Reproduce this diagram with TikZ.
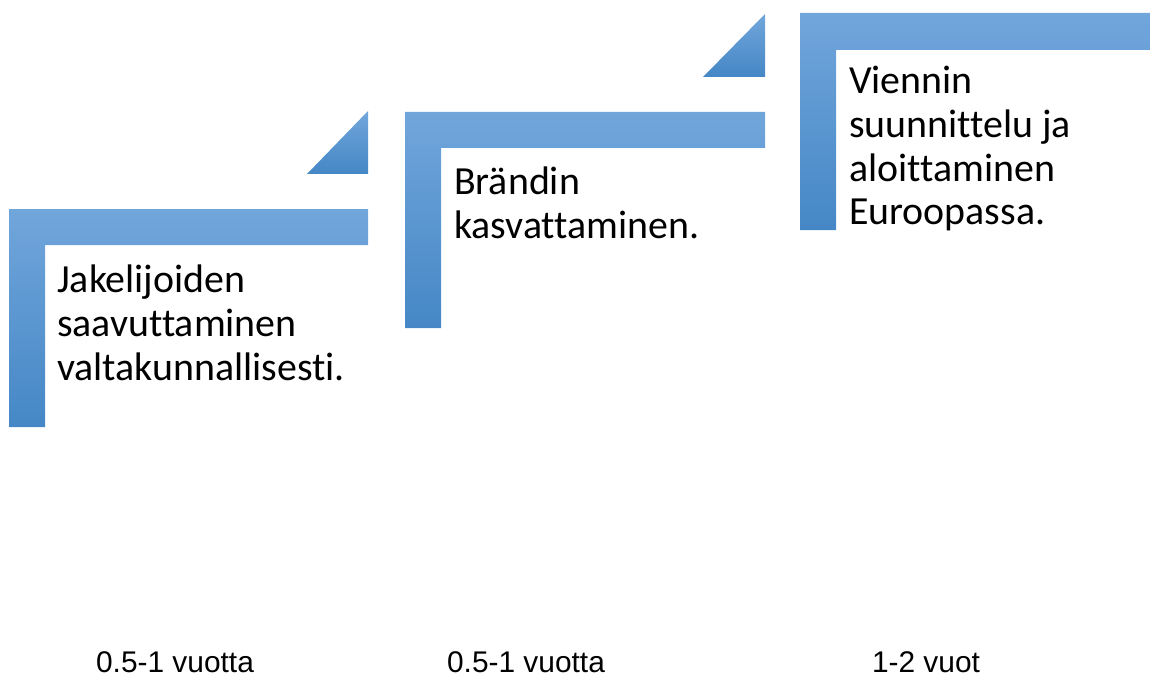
\documentclass[tikz,border=0pt]{standalone}
\usepackage{fontspec}
\setmainfont{Carlito}[Ligatures=NoCommon]
\newfontfamily\arialf{Liberation Sans}
\definecolor{bTop}{HTML}{71A6DB}
\definecolor{bMid}{HTML}{5A9ADB}
\definecolor{bBot}{HTML}{4587C6}
\tikzset{
  stepshape/.style={top color=bTop, middle color=bMid, bottom color=bBot, draw=none},
  tri/.style={top color=bTop, middle color=bMid, bottom color=bBot, draw=none},
  steptext/.style={anchor=base west, align=left, inner sep=0pt, font=\fontsize{40}{44}\selectfont},
  durtext/.style={anchor=base, inner sep=0pt, text depth=0pt, font=\arialf\fontsize{30}{34}\selectfont}
}
\begin{document}
\begin{tikzpicture}[x=1bp,y=-1bp]
\useasboundingbox (0,0) rectangle (1150,677);
% step 1
\shade[stepshape] (9,209) -- (368,209) -- (368,245) -- (45,245) -- (45,427) -- (9,427) -- cycle;
\shade[tri] (307,174) -- (368,174) -- (368,111) -- cycle;
% step 2
\shade[stepshape] (405,112) -- (765,112) -- (765,148) -- (441,148) -- (441,328) -- (405,328) -- cycle;
\shade[tri] (703,77) -- (765,77) -- (765,14) -- cycle;
% step 3
\shade[stepshape] (800,13) -- (1150,13) -- (1150,50) -- (836,50) -- (836,230) -- (800,230) -- cycle;
% texts (base anchor = baseline of last line)
\node[steptext] (t1) at (57,380) {Jakelijoiden\\saavuttaminen\\valtakunnallisesti.};
\node[steptext] (t2) at (454,238) {Brändin\\kasvattaminen.};
\node[steptext] (t3) at (849,225) {Viennin\\suunnittelu ja\\aloittaminen\\Euroopassa.};
\node[durtext] (d1) at (175,672) {0.5-1 vuotta};
\node[durtext] (d2) at (526,672) {0.5-1 vuotta};
\node[durtext] (d3) at (926,672) {1-2 vuot};
\end{tikzpicture}
\end{document}
